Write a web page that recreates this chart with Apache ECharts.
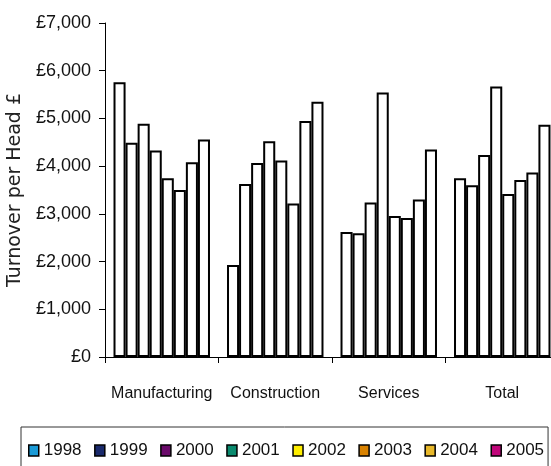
<!DOCTYPE html>
<html>
<head>
<meta charset="utf-8">
<script src="https://cdn.jsdelivr.net/npm/echarts@6/dist/echarts.min.js"></script>
<style>
  html, body { margin: 0; padding: 0; background: #fff; }
  #chart { width: 551px; height: 466px; }
</style>
</head>
<body>
<div id="chart"></div>
<script>
// Sector groups along the x axis
const sectors = ['Manufacturing', 'Construction', 'Services', 'Total'];

// Years shown as series (one bar per year inside each sector)
const years = ['1998', '1999', '2000', '2001', '2002', '2003', '2004', '2005'];

// Legend swatch colours per year
const yearColors = ['#1a9ad6', '#1a2a6c', '#6a0a6a', '#0a8a6e', '#ffee00', '#d98200', '#e8b82a', '#c0067a'];

// Turnover per head (GBP), one array per sector, ordered 1998..2005
const manufacturing = [5760, 4490, 4890, 4330, 3745, 3500, 4080, 4560];
const construction  = [1930, 3625, 4065, 4520, 4120, 3215, 4945, 5350];
const services      = [2620, 2595, 3240, 5545, 2955, 2915, 3300, 4350];
const total         = [3745, 3600, 4235, 5670, 3415, 3710, 3865, 4870];

// Y-axis ticks
const yTicks = [0, 1000, 2000, 3000, 4000, 5000, 6000, 7000];

const bySector = [manufacturing, construction, services, total];

const labelFont = '"Liberation Sans", Arial, sans-serif';

const series = years.map((y, i) => ({
  name: y,
  type: 'bar',
  barGap: '0%',
  barCategoryGap: '15%',
  data: bySector.map(arr => arr[i]),
  itemStyle: { color: '#ffffff', borderColor: '#000000', borderWidth: 2 },
  emphasis: { disabled: true }
}));

const chart = echarts.init(document.getElementById('chart'), null, { renderer: 'canvas' });
chart.setOption({
  animation: false,
  backgroundColor: '#ffffff',
  grid: {
    left: 105, top: 23, width: 454, height: 334,
    containLabel: false,
    outerBoundsMode: 'none'
  },
  xAxis: {
    type: 'category',
    data: sectors,
    axisLine: { lineStyle: { color: '#000', width: 1 } },
    axisTick: { show: true, length: 6, inside: false, interval: 0, lineStyle: { color: '#000' } },
    axisLabel: { color: '#111', fontFamily: labelFont, fontSize: 16, margin: 29, interval: 0 },
    splitLine: { show: false }
  },
  yAxis: {
    type: 'value',
    min: yTicks[0],
    max: yTicks[yTicks.length - 1],
    interval: 1000,
    name: 'Turnover per Head £',
    nameLocation: 'middle',
    nameRotate: 90,
    nameGap: 73,
    nameTextStyle: { color: '#222', fontFamily: '"DejaVu Sans", sans-serif', fontSize: 19 },
    axisLine: { show: true, lineStyle: { color: '#000', width: 1 } },
    axisTick: { show: true, length: 6, lineStyle: { color: '#000' } },
    axisLabel: {
      color: '#111', fontFamily: labelFont, fontSize: 18, margin: 14,
      formatter: v => '£' + v.toLocaleString('en-GB')
    },
    splitLine: { show: false }
  },
  legend: {
    left: 21,
    top: 427,
    width: 530,
    orient: 'horizontal',
    icon: 'rect',
    itemWidth: 10,
    itemHeight: 11,
    itemGap: 12.5,
    padding: [15, 4, 14, 7],
    borderColor: '#333',
    borderWidth: 1,
    textStyle: { color: '#111', fontFamily: labelFont, fontSize: 17 },
    data: years.map((y, i) => ({
      name: y,
      itemStyle: { color: yearColors[i], borderColor: '#000', borderWidth: 1.5 }
    }))
  },
  series: series
});
</script>
</body>
</html>
